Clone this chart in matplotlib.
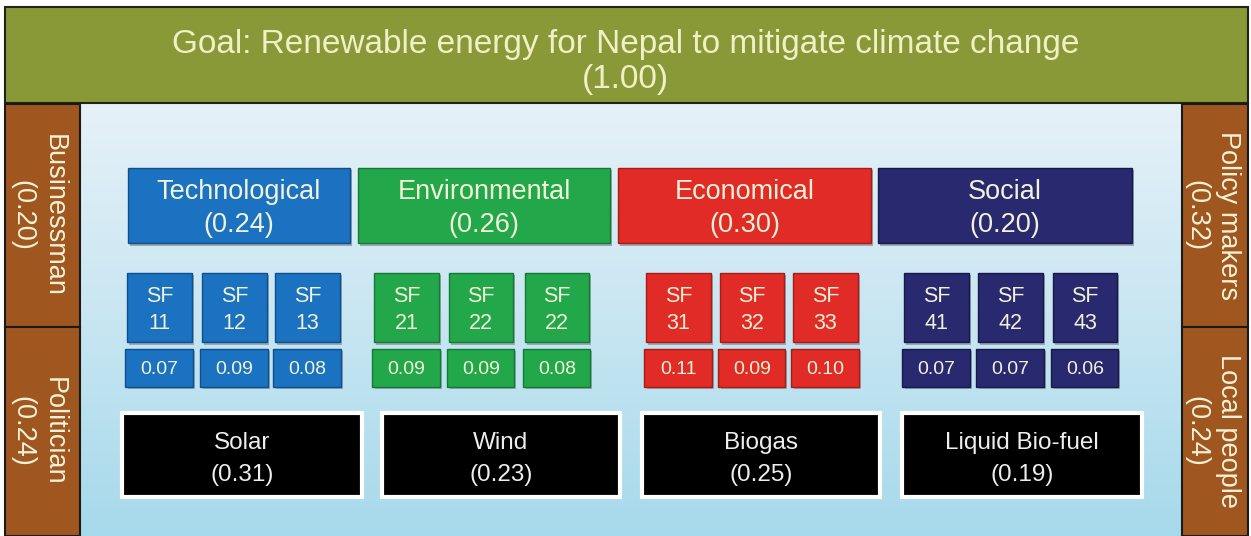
import numpy as np
import matplotlib
matplotlib.use('Agg')
import matplotlib.pyplot as plt
from matplotlib.patches import Rectangle
from matplotlib.colors import LinearSegmentedColormap

plt.rcParams['font.family'] = ['Liberation Sans', 'DejaVu Sans']

# data
goal = 'Goal: Renewable energy for Nepal to mitigate climate change'
goal_w = 1.00
criteria = ['Technological', 'Environmental', 'Economical', 'Social']
criteria_w = [0.24, 0.26, 0.30, 0.20]
sub_labels = [['11', '12', '13'], ['21', '22', '22'], ['31', '32', '33'], ['41', '42', '43']]
sub_w = [[0.07, 0.09, 0.08], [0.09, 0.09, 0.08], [0.11, 0.09, 0.10], [0.07, 0.07, 0.06]]
alternatives = ['Solar', 'Wind', 'Biogas', 'Liquid Bio-fuel']
alt_w = [0.31, 0.23, 0.25, 0.19]
stake_left = ['Businessman', 'Politician']
stake_left_w = [0.20, 0.24]
stake_right = ['Policy makers', 'Local people']
stake_right_w = [0.32, 0.24]

# styles / layout (pixels)
W, H = 1251, 536
crit_colors = ['#1a72c1', '#22a84b', '#e12b26', '#28296f']
crit_edges = ['#0f4f8c', '#157a34', '#a81c18', '#181948']
crit_x = [(128, 350), (358, 610), (618, 871), (878, 1132)]
sf_x = [[(127, 192), (202, 267), (275, 340)],
        [(374, 439), (449, 513), (525, 589)],
        [(646, 711), (720, 784), (793, 858)],
        [(904, 969), (978, 1043), (1053, 1117)]]
alt_x = [(122, 362), (382, 620), (642, 880), (902, 1142)]
txt = '#f2f2d8'

fig = plt.figure(figsize=(W / 100, H / 100), dpi=100)
ax = fig.add_axes([0, 0, 1, 1])
ax.set_xlim(0, W)
ax.set_ylim(H, 0)
ax.axis('off')


def box(x0, x1, y0, y1, fc, ec='none', lw=0, z=2):
    ax.add_patch(Rectangle((x0, y0), x1 - x0, y1 - y0, facecolor=fc,
                           edgecolor=ec, linewidth=lw, zorder=z))


# background gradient in middle
cmap = LinearSegmentedColormap.from_list('bg', ['#e6f1f8', '#c8e6f2', '#a6d9eb'])
grad = np.linspace(0, 1, 256).reshape(-1, 1)
ax.imshow(grad, cmap=cmap, extent=(80, 1183, H, 103), aspect='auto', zorder=0)

# goal band
box(5, 1248, 7, 103, '#8a9937', '#1e2418', 1.5, z=1)
ax.text(W / 2, 62, '%s\n(%.2f)' % (goal, goal_w), ha='center', va='center',
        fontsize=24, color='#f0f0c8', linespacing=1.2, zorder=3)

# stakeholder panels
for i, (name, w) in enumerate(zip(stake_left, stake_left_w)):
    y0, y1 = (104, 327) if i == 0 else (327, 536)
    box(5, 80, y0, y1, '#a0561f', '#1a1a1a', 1.5, z=1)
    ax.text(38, (y0 + y1) / 2, '%s\n(%.2f)' % (name, w), rotation=270,
            ha='center', va='center', fontsize=19.5, color=txt,
            linespacing=1.3, zorder=3)
for i, (name, w) in enumerate(zip(stake_right, stake_right_w)):
    y0, y1 = (104, 327) if i == 0 else (327, 536)
    box(1182, 1248, y0, y1, '#a0561f', '#1a1a1a', 1.5, z=1)
    ax.text(1212, (y0 + y1) / 2, '%s\n(%.2f)' % (name, w), rotation=270,
            ha='center', va='center', fontsize=19.5, color=txt,
            linespacing=1.3, zorder=3)

# criteria
for i, (name, w) in enumerate(zip(criteria, criteria_w)):
    x0, x1 = crit_x[i]
    box(x0 + 2, x1 + 2, 170, 246, '#9aa8b4', z=1)
    box(x0, x1, 168, 243, crit_colors[i], crit_edges[i], 1)
    ax.text((x0 + x1) / 2, 208.5, '%s\n(%.2f)' % (name, w), ha='center',
            va='center', fontsize=19.5, color=txt, linespacing=1.35, zorder=3)
    # sub-factors
    for j in range(3):
        s0, s1 = sf_x[i][j]
        box(s0 + 2, s1 + 2, 275, 345, '#9aa8b4', z=1)
        box(s0, s1, 273, 342, crit_colors[i], crit_edges[i], 1)
        ax.text((s0 + s1) / 2, 310, 'SF\n' + sub_labels[i][j], ha='center',
                va='center', fontsize=15.5, color=txt, linespacing=1.35, zorder=3)
        box(s0 + 1, s1 + 3, 351, 389, '#9aa8b4', z=1)
        box(s0 - 2, s1 + 1, 349, 387, crit_colors[i], crit_edges[i], 1)
        ax.text((s0 + s1) / 2, 369.5, '%.2f' % sub_w[i][j], ha='center',
                va='center', fontsize=14, color=txt, zorder=3)

# alternatives
for i, (name, w) in enumerate(zip(alternatives, alt_w)):
    x0, x1 = alt_x[i]
    box(x0 + 2, x1 + 2, 415, 499, '#8fb8c8', z=1)
    box(x0, x1, 413, 497, 'black', 'white', 3)
    ax.text((x0 + x1) / 2, 459, '%s\n(%.2f)' % (name, w), ha='center',
            va='center', fontsize=17.5, color='#eeeeee', linespacing=1.6, zorder=3)

fig.savefig('out.png', dpi=100)
